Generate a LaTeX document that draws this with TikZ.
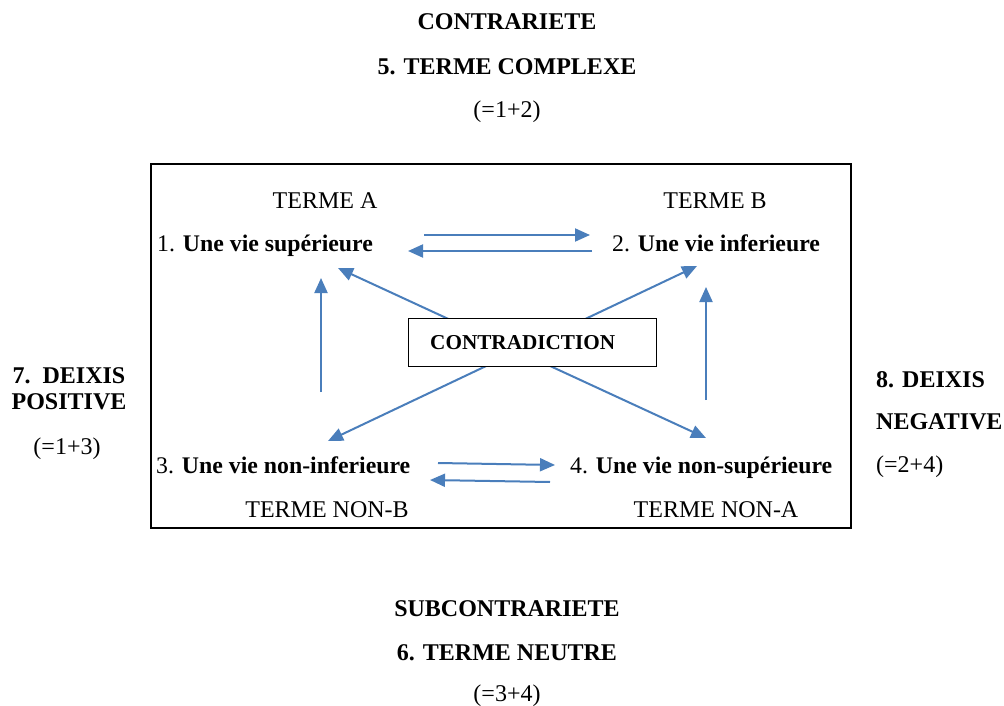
\documentclass[tikz,border=0pt]{standalone}
\usepackage{fontspec}
\setmainfont{Liberation Serif}
\usetikzlibrary{arrows.meta}
\definecolor{linkblue}{RGB}{74,126,187}
\tikzset{
  link/.style={draw=linkblue, line width=2pt, -{Triangle[length=15pt,width=13pt]}},
  twolink/.style={link, {Triangle[length=15pt,width=13pt]}-{Triangle[length=15pt,width=13pt]}},
  headtext/.style={font=\fontsize{24}{28}\selectfont\bfseries},
  plaintext/.style={font=\fontsize{24}{28}\selectfont},
  itemtext/.style={font=\fontsize{23.8}{28}\selectfont},
}
\begin{document}
\begin{tikzpicture}[x=1pt,y=-1pt]
    \tikzstyle{every node}+=[inner sep=0pt]
    \useasboundingbox (0,0) rectangle (1004,706);
    % top and bottom titles
    \draw (507,30) node[headtext, anchor=base] (contrariete) {CONTRARIETE};
    \draw (507,75) node[headtext, anchor=base] (complexe) {5. TERME COMPLEXE};
    \draw (507,118) node[plaintext, anchor=base] (sum12) {(=1+2)};
    \draw (507,616) node[headtext, anchor=base] (subcontrariete) {SUBCONTRARIETE};
    \draw (507,660) node[headtext, anchor=base] (neutre) {6. TERME NEUTRE};
    \draw (507,701) node[plaintext, anchor=base] (sum34) {(=3+4)};
    % deixis
    \draw (69,383) node[headtext, anchor=base] (deixisA) {7.\ \ DEIXIS};
    \draw (69,409) node[headtext, anchor=base] (positive) {POSITIVE};
    \draw (67,454) node[plaintext, anchor=base] (sum13) {(=1+3)};
    \draw (876,387) node[headtext, anchor=base west] (deixisB) {8. DEIXIS};
    \draw (876,429) node[headtext, anchor=base west] (negative) {NEGATIVE};
    \draw (876,472) node[plaintext, anchor=base west] (sum24) {(=2+4)};
    % frame
    \draw [line width=1.5pt] (151,164) rectangle (851,528);
    % terms
    \draw (325,208) node[plaintext, anchor=base] (termeA) {TERME A};
    \draw (715,208) node[plaintext, anchor=base] (termeB) {TERME B};
    \draw (157,251) node[itemtext, anchor=base west] (sup) {1. \textbf{Une vie supérieure}};
    \draw (612,251) node[itemtext, anchor=base west] (inf) {2. \textbf{Une vie inferieure}};
    \draw (156,473) node[itemtext, anchor=base west] (noninf) {3. \textbf{Une vie non-inferieure}};
    \draw (570,473) node[itemtext, anchor=base west] (nonsup) {4. \textbf{Une vie non-supérieure}};
    \draw (327,517) node[plaintext, anchor=base] (termeNB) {TERME NON-B};
    \draw (716,517) node[plaintext, anchor=base] (termeNA) {TERME NON-A};
    % arrow ends
    \coordinate (ab1) at (424,235); \coordinate (ab2) at (590,235);
    \coordinate (ba1) at (592,251); \coordinate (ba2) at (408,251);
    \coordinate (cd1) at (438,463); \coordinate (cd2) at (555,465);
    \coordinate (dc1) at (550,482); \coordinate (dc2) at (430,480);
    \coordinate (ca1) at (321,392); \coordinate (ca2) at (321,278);
    \coordinate (db1) at (706,400); \coordinate (db2) at (706,287);
    \coordinate (diagA) at (338,268); \coordinate (diagD) at (706,438);
    \coordinate (diagB) at (697,266); \coordinate (diagC) at (328,441);
    \draw [link] (ab1) -- (ab2);
    \draw [link] (ba1) -- (ba2);
    \draw [link] (cd1) -- (cd2);
    \draw [link] (dc1) -- (dc2);
    \draw [link] (ca1) -- (ca2);
    \draw [link] (db1) -- (db2);
    \draw [twolink] (diagA) -- (diagD);
    \draw [twolink] (diagB) -- (diagC);
    % contradiction
    \draw (532,342) node[draw, fill=white, line width=1pt, minimum width=248pt, minimum height=48pt] (contrabox) {};
    \draw (430,349) node[headtext, font=\fontsize{21.2}{25}\selectfont\bfseries, anchor=base west] (contra) {CONTRADICTION};
\end{tikzpicture}
\end{document}
